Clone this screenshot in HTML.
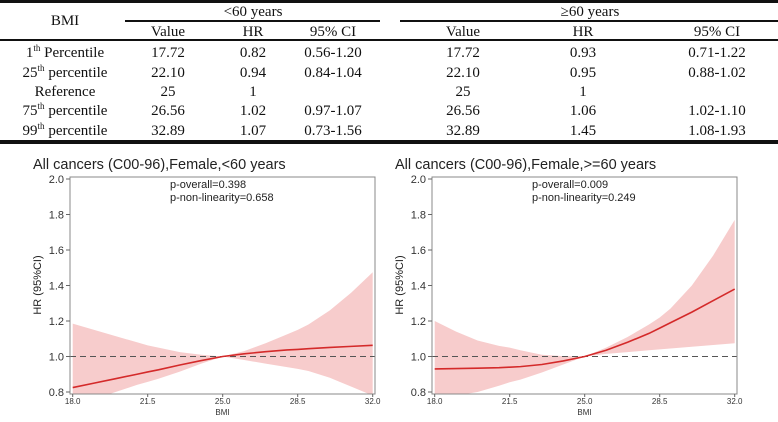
<!DOCTYPE html>
<html><head><meta charset="utf-8"><style>
body{margin:0;width:778px;height:417px;background:#fff;overflow:hidden}
svg text{font-family:"Liberation Sans",sans-serif}
.t{font-family:"Liberation Serif",serif;font-size:15px;fill:#111}
</style></head><body>
<svg width="778" height="417" viewBox="0 0 778 417">
<g>
<rect x="0" y="0" width="778" height="3" fill="#111"/>
<rect x="125" y="20" width="255" height="2" fill="#111"/>
<rect x="400" y="20" width="378" height="2" fill="#111"/>
<rect x="0" y="39" width="778" height="2" fill="#111"/>
<rect x="0" y="140" width="778" height="4" fill="#111"/>
<g text-anchor="middle">
<text class="t" x="65" y="25">BMI</text>
<text class="t" x="253" y="16">&lt;60 years</text>
<text class="t" x="590" y="16">≥60 years</text>
<text class="t" x="168" y="36">Value</text><text class="t" x="253" y="36">HR</text><text class="t" x="333" y="36">95% CI</text>
<text class="t" x="463" y="36">Value</text><text class="t" x="583" y="36">HR</text><text class="t" x="717" y="36">95% CI</text>
<text class="t" x="65" y="57">1<tspan font-size="9" dy="-6">th</tspan><tspan dy="6"> Percentile</tspan></text>
<text class="t" x="65" y="77">25<tspan font-size="9" dy="-6">th</tspan><tspan dy="6"> percentile</tspan></text>
<text class="t" x="65" y="96">Reference</text>
<text class="t" x="65" y="115">75<tspan font-size="9" dy="-6">th</tspan><tspan dy="6"> percentile</tspan></text>
<text class="t" x="65" y="135">99<tspan font-size="9" dy="-6">th</tspan><tspan dy="6"> percentile</tspan></text>
</g>
<g id="rows" text-anchor="middle"></g>
</g>
<g id="c1"></g>
<g id="c2"></g>
</svg>
<script>
const rowV=["17.72","22.10","25","26.56","32.89"];
const hrL=["0.82","0.94","1","1.02","1.07"];
const ciL=["0.56-1.20","0.84-1.04","","0.97-1.07","0.73-1.56"];
const hrR=["0.93","0.95","1","1.06","1.45"];
const ciR=["0.71-1.22","0.88-1.02","","1.02-1.10","1.08-1.93"];
const rowY=[57,77,96,115,135];
const NS="http://www.w3.org/2000/svg";
function mk(p,tag,a,txt){const e=document.createElementNS(NS,tag);for(const k in a)e.setAttribute(k,a[k]);if(txt!=null)e.textContent=txt;p.appendChild(e);return e;}
const rows=document.getElementById('rows');
rowV.forEach((v,i)=>{
 [[168,v],[253,hrL[i]],[333,ciL[i]],[463,v],[583,hrR[i]],[717,ciR[i]]].forEach(([x,t])=>{
  const e=mk(rows,'text',{x:x,y:rowY[i],class:'t'},t);
  
  
 });
});
const xTicks=[18,21.5,25,28.5,32];
const yTicks=[0.8,1.0,1.2,1.4,1.6,1.8,2.0];
const bmi=[18,19,20,21,21.5,22,23,24,25,26,27,28,28.5,29,30,31,32];
const est1=[0.825,0.85,0.875,0.9,0.913,0.925,0.952,0.977,1.0,1.015,1.027,1.037,1.04,1.044,1.051,1.057,1.063];
const lo1=[0.73,0.76,0.8,0.84,0.857,0.875,0.915,0.96,1.0,0.98,0.96,0.94,0.93,0.918,0.88,0.83,0.78];
const hi1=[1.185,1.15,1.115,1.08,1.063,1.05,1.025,1.01,1.0,1.03,1.075,1.125,1.15,1.18,1.26,1.36,1.475];
const est2=[0.93,0.932,0.934,0.937,0.94,0.943,0.955,0.975,1.0,1.035,1.08,1.13,1.16,1.19,1.25,1.315,1.38];
const lo2=[0.76,0.78,0.8,0.835,0.855,0.87,0.91,0.955,1.0,1.015,1.025,1.035,1.04,1.045,1.055,1.065,1.075];
const hi2=[1.2,1.14,1.09,1.06,1.05,1.035,1.01,1.002,1.0,1.05,1.11,1.18,1.22,1.27,1.4,1.57,1.77];
function chart(gid,ox,title,p1,p2,est,lo,hi){
 const g=document.getElementById(gid);
 const L=ox+70,R=ox+375,T=177,B=394;
 const x=v=>ox+72.7+(v-18)/14*300, y=v=>392-(v-0.8)/1.2*213;
 const cid='clip'+gid;
 const cp=mk(mk(g,'defs',{}),'clipPath',{id:cid});mk(cp,'rect',{x:L,y:T,width:R-L,height:B-T});
 const pg=mk(g,'g',{'clip-path':'url(#'+cid+')'});
 let d='M'+bmi.map((b,i)=>x(b)+','+y(hi[i])).join('L')+'L'+bmi.map((b,i)=>x(b)+','+y(lo[i])).reverse().join('L')+'Z';
 const band=mk(pg,'path',{d:d,fill:'#f7cccc'});
 
 
 const ref=mk(pg,'line',{x1:L,x2:R,y1:y(1),y2:y(1),stroke:'#555','stroke-dasharray':'6,4','stroke-width':1});
 
 
 const ln=mk(pg,'path',{d:'M'+bmi.map((b,i)=>x(b)+','+y(est[i])).join('L'),fill:'none',stroke:'#d42a2a','stroke-width':1.6});
 
 
 mk(g,'rect',{x:L,y:T,width:R-L,height:B-T,fill:'none',stroke:'#888','stroke-width':1});
 yTicks.forEach(v=>{mk(g,'line',{x1:L-4,x2:L,y1:y(v),y2:y(v),stroke:'#666'});
  const t=mk(g,'text',{x:L-6,y:y(v)+4,'text-anchor':'end','font-size':11,fill:'#333'},v.toFixed(1));
  
  });
 xTicks.forEach(v=>{mk(g,'line',{x1:x(v),x2:x(v),y1:B,y2:B+3,stroke:'#666'});
  const t=mk(g,'text',{x:x(v),y:B+10,'text-anchor':'middle','font-size':8,fill:'#333'},v.toFixed(1));
  
  });
 const tt=mk(g,'text',{x:ox+33,y:169,'font-size':14.5,fill:'#222'},title);
 
 
 const a=mk(g,'text',{x:ox+170,y:188,'font-size':11,fill:'#222'},p1);
 
 
 const b=mk(g,'text',{x:ox+170,y:201,'font-size':11,fill:'#222'},p2);
 
 
 const yl=mk(g,'text',{x:0,y:0,'font-size':11,fill:'#222','text-anchor':'middle',transform:'translate('+(ox+41)+',285) rotate(-90)'},'HR (95%CI)');
 
 
 const xl=mk(g,'text',{x:(L+R)/2,y:415,'font-size':8,fill:'#333','text-anchor':'middle'},'BMI');
 
 
}
chart('c1',0,'All cancers (C00-96),Female,<60 years','p-overall=0.398','p-non-linearity=0.658',est1,lo1,hi1);
chart('c2',362,'All cancers (C00-96),Female,>=60 years','p-overall=0.009','p-non-linearity=0.249',est2,lo2,hi2);
</script>
</body></html>
